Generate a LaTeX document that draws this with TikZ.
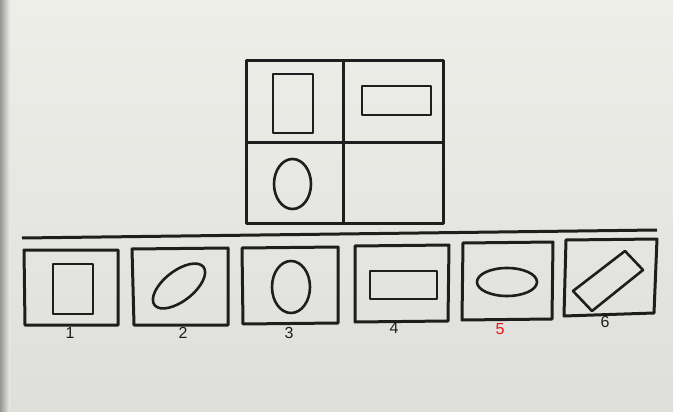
\documentclass[tikz,border=0pt]{standalone}
\usepackage{fontspec}
\setmainfont{Liberation Sans}
\definecolor{paperT}{RGB}{238,238,233}
\definecolor{paperB}{RGB}{222,222,219}
\definecolor{edge}{RGB}{150,150,148}
\definecolor{ink}{RGB}{30,30,30}
\definecolor{redlab}{RGB}{235,20,20}
\begin{document}
\begin{tikzpicture}[x=1pt,y=-1pt,
  frame/.style={draw=ink,line width=3pt,line join=round},
  fig/.style={draw=ink,line width=2.6pt,line join=round},
  lab/.style={font=\fontsize{16}{16}\selectfont,text=ink,inner sep=0pt}]
\useasboundingbox (0,0) rectangle (673,412);
\shade[top color=paperT,bottom color=paperB] (0,0) rectangle (673,412);
\shade[left color=edge,right color=paperT] (0,0) rectangle (10,412);
% top grid
\draw[frame] (246,61) rectangle (443,223);
\draw[frame] (343,61) -- (343,223);
\draw[frame] (246,143) -- (443,143);
\draw[fig] (273,74) rectangle (313,133);
\draw[fig] (362,86) rectangle (431,115);
\draw[fig] (292.5,184) ellipse [x radius=18.5,y radius=25];
% separator
\draw[frame] (22,238) -- (657,230);
% option 1
\draw[frame] (24,250) -- (118,250) -- (118,325) -- (25,325) -- cycle;
\draw[fig] (53,264) rectangle (93,314);
\node[lab] (l1) at (70,333) {1};
% option 2
\draw[frame] (132,249) -- (228,248) -- (228,325) -- (134,325) -- cycle;
\draw[fig,rotate around={38:(179,286)}] (179,286) ellipse [x radius=31,y radius=15];
\node[lab] (l2) at (183,333) {2};
% option 3
\draw[frame] (242,248) -- (338,247) -- (338,323) -- (243,324) -- cycle;
\draw[fig] (291,287) ellipse [x radius=19,y radius=26];
\node[lab] (l3) at (289,333) {3};
% option 4
\draw[frame] (355,246) -- (449,245) -- (448,321) -- (355,322) -- cycle;
\draw[fig] (370,271) rectangle (437,299);
\node[lab] (l4) at (394,328) {4};
% option 5
\draw[frame] (463,243) -- (553,242) -- (552,319) -- (462,320) -- cycle;
\draw[fig] (507,282) ellipse [x radius=30,y radius=14];
\node[lab,text=redlab] (l5) at (500,329) {5};
% option 6
\draw[frame] (566,240) -- (657,239) -- (654,313) -- (564,316) -- cycle;
\draw[fig] (625,251) -- (643,270) -- (592,311) -- (573,291) -- cycle;
\node[lab] (l6) at (605,322) {6};
\end{tikzpicture}
\end{document}
